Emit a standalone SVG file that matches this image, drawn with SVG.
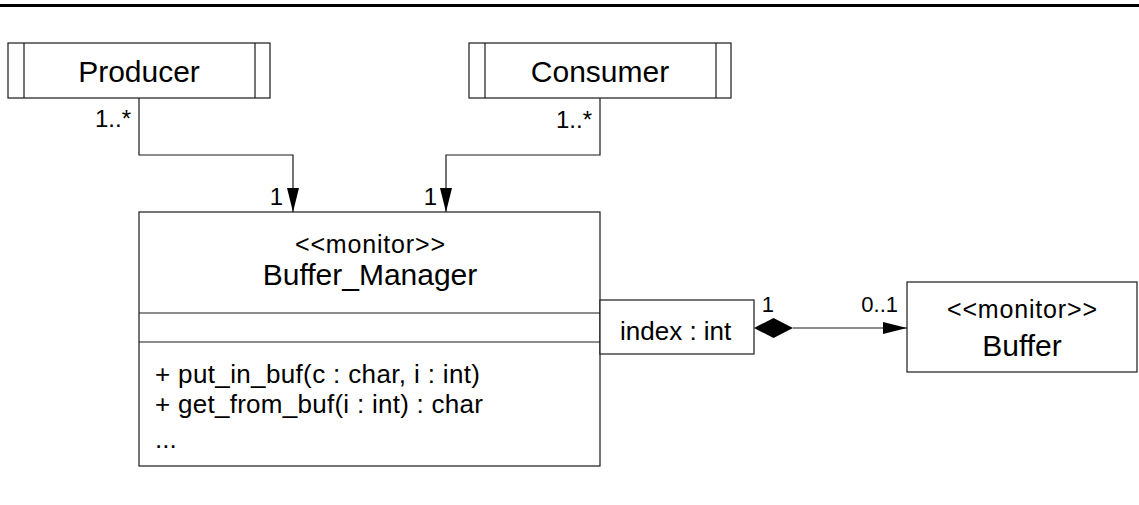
<svg xmlns="http://www.w3.org/2000/svg" width="1139" height="505" viewBox="0 0 1139 505">
  <style>
    .box { fill: #fff; stroke: #1a1a1a; stroke-width: 1.2; }
    .line { fill: none; stroke: #1a1a1a; stroke-width: 1.2; }
    text { font-family: "Liberation Sans", Arial, Helvetica, sans-serif; fill: #000; }
    .name { font-size: 30px; text-anchor: middle; }
    .stereo { font-size: 25px; text-anchor: middle; }
    .mult { font-size: 24px; text-anchor: end; }
    .member { font-size: 26px; }
  </style>
  <defs>
    <marker id="arrow" viewBox="0 0 24 12" refX="24" refY="6" markerWidth="24" markerHeight="12" markerUnits="userSpaceOnUse" orient="auto">
      <path d="M0,0 L24,6 L0,12 Z" fill="#000"/>
    </marker>
  </defs>

  <!-- header rule -->
  <line x1="0" y1="5.5" x2="1139" y2="5.5" stroke="#000" stroke-width="3"/>

  <!-- connectors -->
  <g id="connectors">
    <polyline class="line" points="139,98 139,155 293,155 293,212" marker-end="url(#arrow)"/>
    <text class="mult" x="131" y="127">1..*</text>
    <text class="mult" x="283" y="205">1</text>

    <polyline class="line" points="600,98 600,155 446,155 446,212" marker-end="url(#arrow)"/>
    <text class="mult" x="592" y="128">1..*</text>
    <text class="mult" x="437" y="205">1</text>

    <!-- composition: qualified by index -->
    <path d="M754,328 L773.5,318 L793,328 L773.5,338 Z" fill="#000"/>
    <line class="line" x1="793" y1="328" x2="907" y2="328" marker-end="url(#arrow)"/>
    <text class="mult" x="774" y="312" style="font-size:22px">1</text>
    <text class="mult" x="898" y="312" style="font-size:22px">0..1</text>
  </g>

  <!-- active class: Producer -->
  <g id="producer">
    <rect class="box" x="8" y="43" width="262" height="55"/>
    <line class="line" x1="24" y1="43" x2="24" y2="98"/>
    <line class="line" x1="255" y1="43" x2="255" y2="98"/>
    <text class="name" x="139" y="82">Producer</text>
  </g>

  <!-- active class: Consumer -->
  <g id="consumer">
    <rect class="box" x="469" y="43" width="262" height="55"/>
    <line class="line" x1="485" y1="43" x2="485" y2="98"/>
    <line class="line" x1="716" y1="43" x2="716" y2="98"/>
    <text class="name" x="600" y="82">Consumer</text>
  </g>

  <!-- monitor class: Buffer_Manager -->
  <g id="buffer_manager">
    <rect class="box" x="139" y="212" width="461" height="254"/>
    <line class="line" x1="139" y1="313" x2="600" y2="313"/>
    <line class="line" x1="139" y1="342" x2="600" y2="342"/>
    <text class="stereo" x="370" y="253" textLength="150">&lt;&lt;monitor&gt;&gt;</text>
    <text class="name" x="370" y="285">Buffer_Manager</text>
    <text class="member" x="155" y="383" textLength="325">+ put_in_buf(c : char, i : int)</text>
    <text class="member" x="155" y="413" textLength="328">+ get_from_buf(i : int) : char</text>
    <text class="member" x="155" y="448">...</text>
  </g>

  <!-- qualifier -->
  <g id="qualifier">
    <rect class="box" x="600" y="300" width="154" height="54"/>
    <text x="620" y="340" style="font-size:26px">index : int</text>
  </g>

  <!-- monitor class: Buffer -->
  <g id="buffer">
    <rect class="box" x="907" y="282" width="230" height="90"/>
    <text class="stereo" x="1022" y="318" textLength="150">&lt;&lt;monitor&gt;&gt;</text>
    <text class="name" x="1022" y="356">Buffer</text>
  </g>
</svg>
